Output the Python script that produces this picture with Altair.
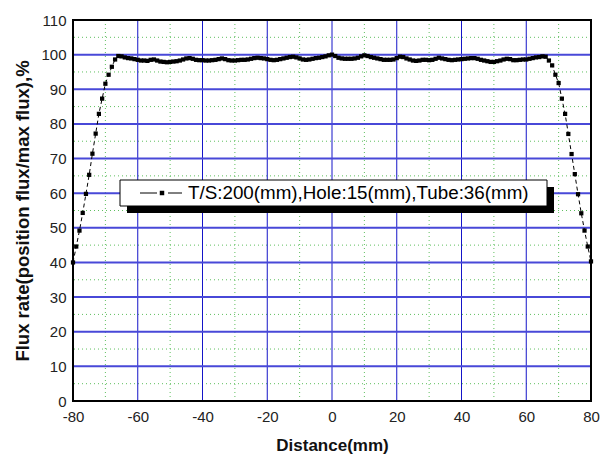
import altair as alt
import pandas as pd

# Distance (mm) and flux rate (%)
distance = list(range(-80, 81))
flux = [
    40.0, 44.6, 49.2, 54.3, 59.8, 65.3, 71.4, 77.2, 82.9, 87.3,
    91.6, 94.2, 96.5, 98.6, 99.6, 99.5, 99.2, 99.0, 98.9, 98.7,
    98.5, 98.3, 98.3, 98.2, 98.5, 98.6, 98.3, 98.0, 97.9, 97.8,
    97.9, 98.0, 98.1, 98.3, 98.6, 98.9, 99.0, 98.8, 98.5, 98.4,
    98.4, 98.3, 98.3, 98.4, 98.5, 98.7, 98.9, 98.7, 98.4, 98.3,
    98.3, 98.4, 98.5, 98.5, 98.6, 98.8, 99.0, 99.1, 99.0, 98.9,
    98.7, 98.5, 98.4, 98.5, 98.7, 98.9, 99.1, 99.3, 99.4, 99.2,
    98.9, 98.6, 98.5, 98.6, 98.8, 99.0, 99.1, 99.3, 99.5, 99.8,
    100.0, 99.6, 99.1, 98.9, 98.8, 98.8, 98.8, 98.9, 99.1, 99.5,
    99.8, 99.6, 99.3, 99.1, 98.9, 98.7, 98.5, 98.5, 98.5, 98.6,
    99.0, 99.4, 99.3, 98.9, 98.6, 98.3, 98.2, 98.3, 98.5, 98.5,
    98.4, 98.5, 98.8, 99.1, 98.9, 98.7, 98.5, 98.4, 98.5, 98.6,
    98.7, 98.8, 98.9, 99.0, 99.0, 98.8, 98.5, 98.3, 98.1, 97.9,
    97.9, 98.1, 98.3, 98.6, 98.8, 98.7, 98.4, 98.4, 98.5, 98.6,
    98.6, 98.8, 99.0, 99.2, 99.3, 99.5, 99.4, 98.3, 96.9, 94.2,
    91.8, 87.3, 82.9, 77.1, 71.3, 65.5, 59.7, 54.2, 49.2, 44.6,
    40.3,
]
series_label = "T/S:200(mm),Hole:15(mm),Tube:36(mm)"

x_ticks = [-80, -60, -40, -20, 0, 20, 40, 60, 80]
y_ticks = [0, 10, 20, 30, 40, 50, 60, 70, 80, 90, 100, 110]
major_x = [-60, -40, -20, 0, 20, 40, 60]
major_y = [10, 20, 30, 40, 50, 60, 70, 80, 90, 100]
minor_x = [-70, -50, -30, -10, 10, 30, 50, 70]
minor_y = [5, 15, 25, 35, 45, 55, 65, 75, 85, 95, 105]

W, H = 518, 381
FONT = "Liberation Sans"

df = pd.DataFrame({"d": distance, "f": flux})

xscale = alt.Scale(domain=[-80, 80], nice=False, zero=False)
yscale = alt.Scale(domain=[0, 110], nice=False, zero=False)

xaxis = alt.Axis(
    values=x_ticks, grid=False, ticks=False, tickSize=0, domain=False,
    labelFont=FONT, labelFontSize=15, labelColor="#222", labelPadding=8,
    labelExpr="'' + datum.value", labelOverlap=False,
    title="Distance(mm)", titleFont=FONT, titleFontSize=17, titleFontWeight="bold",
    titleColor="#111", titlePadding=13, labelFlush=False,
)
yaxis = alt.Axis(
    values=y_ticks, grid=False, ticks=False, tickSize=0, domain=False,
    labelFont=FONT, labelFontSize=15, labelColor="#222", labelPadding=7,
    labelExpr="'' + datum.value", labelOverlap=False,
    title="Flux rate(position flux/max flux),%", titleFont=FONT, titleFontSize=18.5,
    titleFontWeight="bold", titleColor="#111", titlePadding=8, labelFlush=False,
)

base = alt.Chart(df)

# invisible carrier of the axes (first layer so its axes are used)
axes_layer = base.mark_point(opacity=0).encode(
    x=alt.X("d:Q", scale=xscale, axis=xaxis),
    y=alt.Y("f:Q", scale=yscale, axis=yaxis),
)

minor_v = alt.Chart(pd.DataFrame({"v": minor_x})).mark_rule(
    color="#5fbf5f", strokeWidth=1, strokeDash=[1, 3]
).encode(x=alt.X("v:Q", scale=xscale, axis=xaxis))
minor_h = alt.Chart(pd.DataFrame({"v": minor_y})).mark_rule(
    color="#5fbf5f", strokeWidth=1, strokeDash=[1, 3]
).encode(y=alt.Y("v:Q", scale=yscale, axis=yaxis))
major_v = alt.Chart(pd.DataFrame({"v": major_x})).mark_rule(
    color="#1515c8", strokeWidth=1
).encode(x=alt.X("v:Q", scale=xscale, axis=xaxis))
major_h = alt.Chart(pd.DataFrame({"v": major_y})).mark_rule(
    color="#4848d8", strokeWidth=2
).encode(y=alt.Y("v:Q", scale=yscale, axis=yaxis))

line = base.mark_line(color="black", strokeWidth=1, strokeDash=[4, 3]).encode(
    x=alt.X("d:Q", scale=xscale, axis=xaxis),
    y=alt.Y("f:Q", scale=yscale, axis=yaxis),
)
pts = base.mark_square(color="black", size=18, opacity=1).encode(
    x=alt.X("d:Q", scale=xscale, axis=xaxis),
    y=alt.Y("f:Q", scale=yscale, axis=yaxis),
)

# legend box (decoration)
ld = pd.DataFrame({"t": [series_label]})
shadow = alt.Chart(ld).mark_rect(color="black").encode(
    x=alt.value(54), x2=alt.value(481), y=alt.value(167), y2=alt.value(193)
)
box = alt.Chart(ld).mark_rect(fill="white", stroke="black", strokeWidth=1).encode(
    x=alt.value(47), x2=alt.value(474), y=alt.value(160), y2=alt.value(186)
)
seg1 = alt.Chart(ld).mark_rule(color="black", strokeWidth=1).encode(
    x=alt.value(67), x2=alt.value(84), y=alt.value(173)
)
seg2 = alt.Chart(ld).mark_rule(color="black", strokeWidth=1).encode(
    x=alt.value(95), x2=alt.value(109), y=alt.value(173)
)
sym = alt.Chart(ld).mark_square(color="black", size=20, opacity=1).encode(
    x=alt.value(89), y=alt.value(173)
)
txt = alt.Chart(ld).mark_text(
    font=FONT, fontSize=18.8, align="left", baseline="middle", color="black"
).encode(x=alt.value(115), y=alt.value(173), text="t:N")

frame = alt.Chart(ld).mark_rect(fill=None, stroke="black", strokeWidth=2).encode(
    x=alt.value(0), x2=alt.value(W), y=alt.value(0), y2=alt.value(H)
)

chart = alt.layer(
    axes_layer, minor_v, minor_h, major_v, major_h, line, pts,
    shadow, box, seg1, seg2, sym, txt, frame
).properties(
    width=W, height=H,
    padding={"left": 73, "top": 20, "right": 18, "bottom": 64},
    autosize="none",
).configure_view(stroke=None).configure_axis(
    labelOverlap=False
).configure(background="white")

chart.save("out.html", embed_options={"renderer": "svg", "actions": False})
